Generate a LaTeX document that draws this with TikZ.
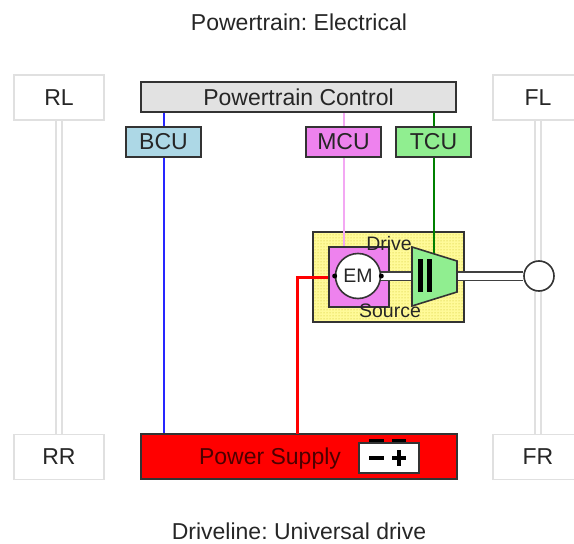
\documentclass[tikz,border=0pt]{standalone}
\usepackage{fontspec}
\setmainfont{Liberation Sans}
\usepackage{xcolor}
\usetikzlibrary{patterns}
\definecolor{ctrlgray}{HTML}{E2E2E2}
\definecolor{bcublue}{HTML}{ADD8E6}
\definecolor{mcupink}{HTML}{EE82EE}
\definecolor{tcugreen}{HTML}{90EE90}
\definecolor{hatchyellow}{HTML}{C8C020}
\frenchspacing
\begin{document}
\begin{tikzpicture}[
  x=1pt, y=-1pt,
  every node/.style={font=\fontsize{23}{25}\selectfont, text=black!85, inner sep=0pt},
  corner/.style={rectangle, draw=black!12, line width=1.6pt, fill=white, minimum width=90pt, minimum height=45pt},
  ctrl/.style={rectangle, draw=black!80, line width=1.8pt, minimum width=75pt, minimum height=30pt},
  small/.style={font=\fontsize{19.5}{21}\selectfont},
  axle/.style={draw=black!12, line width=1.6pt},
  shaft/.style={draw=black!75, line width=1.8pt, double=white, double distance=7pt},
  signal/.style={line width=2pt}
]
\useasboundingbox (0,0) rectangle (574,544);

\node (title) at (299,22) {Powertrain: Electrical};
\node (driveline) at (299,531) {Driveline: Universal drive};

\node[corner] (rl) at (59,97.5) {RL};
\node[corner] (rr) at (59,457) {RR};
\node[corner] (fl) at (538,97.5) {FL};
\node[corner] (fr) at (538,457) {FR};

\foreach \dx in {-3,3} {
  \draw[axle] ([xshift=\dx pt]rl.south) -- ([xshift=\dx pt]rr.north);
  \draw[axle] ([xshift=\dx pt]fl.south) -- ([xshift=\dx pt]fr.north);
}

\node[ctrl, fill=ctrlgray, minimum width=315pt] (control) at (298.5,97) {Powertrain Control};
\node[ctrl, fill=bcublue] (bcu) at (163.5,142) {BCU};
\node[ctrl, fill=mcupink] (mcu) at (343.5,142) {MCU};
\node[ctrl, fill=tcugreen] (tcu) at (433.5,142) {TCU};

\node[ctrl, fill=red, minimum width=316pt, minimum height=45pt] (supply) at (299,456.5) {};
\node[text=black!70!red] (supplytext) at (270,459) {Power Supply};

% drive unit
\node[ctrl, pattern=dots, pattern color=hatchyellow, preaction={fill=yellow!40}, minimum width=151pt, minimum height=90pt] (drive) at (388.5,277) {};
\node[ctrl, fill=mcupink, minimum width=60pt, minimum height=60pt] (motorbox) at (359,277) {};
\node[circle, draw=black!80, line width=1.6pt, fill=white, minimum size=45pt, small] (em) at (358,276) {EM};
\node[circle, draw=black!80, line width=1.6pt, fill=white, minimum size=30pt] (wheel) at (539,276) {};

\coordinate (gearin) at (412,276);
\coordinate (gearout) at (457,276);
\draw[shaft] (em.east) -- (gearin);
\draw[shaft] (gearout) -- (wheel.west);
\fill[black] (em.west) circle (2.5pt);
\fill[black] (em.east) circle (2.5pt);

% gearbox
\filldraw[fill=tcugreen, draw=black!80, line width=1.6pt] (412,247) -- (457,261) -- (457,292) -- (412,306) -- cycle;
\fill[black] (418,259) rectangle (423,292);
\fill[black] (427,259) rectangle (432,292);

\node[small] (drivetext) at (389,244) {Drive};
\node[small] (sourcetext) at (390,311) {Source};

% battery
\fill[black] (369,439) rectangle (384,444);
\fill[black] (392,439) rectangle (406,444);
\node[ctrl, fill=white, minimum width=60pt, minimum height=30pt] (battery) at (389,458) {};
\fill[black] (369,456) rectangle (384,460);
\fill[black] (392,456) rectangle (406,460);
\fill[black] (397,450) rectangle (401,466);

\coordinate (feed) at (297,434);
\coordinate (geartop) at (433.5,253);
\draw[signal, blue!85!white] (control.south -| bcu.north) -- (bcu.north);
\draw[signal, blue!85!white] (bcu.south) -- (supply.north -| bcu.south);
\draw[signal, mcupink!70!white] (control.south -| mcu.north) -- (mcu.north);
\draw[signal, mcupink!70!white] (mcu.south) -- (motorbox.north -| mcu.south);
\draw[signal, green!50!black] (control.south -| tcu.north) -- (tcu.north);
\draw[signal, green!50!black] (tcu.south) -- (geartop);
\draw[red, line width=3pt] (feed) |- (motorbox.west);

\end{tikzpicture}
\end{document}
